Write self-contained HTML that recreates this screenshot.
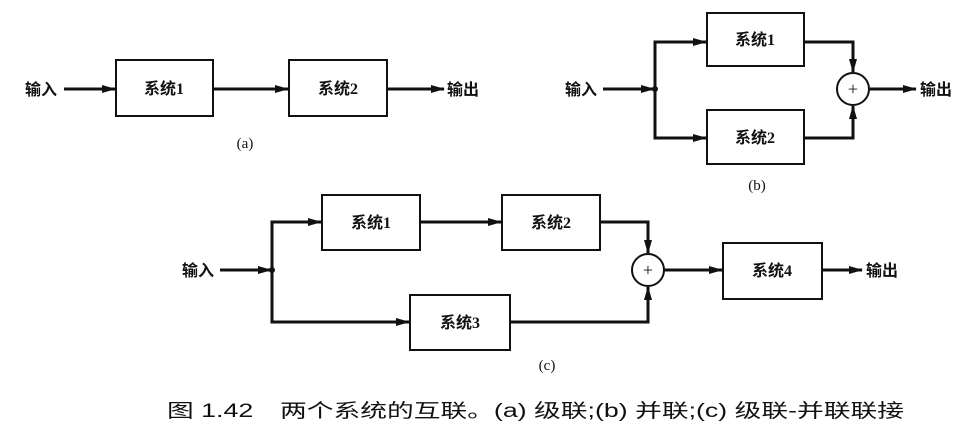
<!DOCTYPE html>
<html><head><meta charset="utf-8"><style>
html,body{margin:0;padding:0;background:#fff;}
svg text{font-family:"Liberation Serif","Noto Serif CJK SC","Noto Sans CJK SC",serif;fill:#111;}
.b{font-weight:bold;font-size:16px;font-family:"Liberation Serif","Noto Sans CJK SC",serif;}
</style></head><body>
<svg width="969" height="441" viewBox="0 0 969 441" xmlns="http://www.w3.org/2000/svg">
<defs><marker id="a" markerWidth="14" markerHeight="8" refX="13" refY="4" orient="auto" markerUnits="userSpaceOnUse"><path d="M0,0 L14,4 L0,8 Z" fill="#111"/></marker></defs>
<g stroke="#111" stroke-width="3" fill="none">
<rect x="116" y="60" width="97" height="56" stroke-width="2"/>
<rect x="289" y="60" width="98" height="56" stroke-width="2"/>
<line x1="64" y1="89" x2="115" y2="89" marker-end="url(#a)"/>
<line x1="213" y1="89" x2="288" y2="89" marker-end="url(#a)"/>
<line x1="387" y1="89" x2="444" y2="89" marker-end="url(#a)"/>
<rect x="707" y="13" width="97" height="53" stroke-width="2"/>
<rect x="707" y="110" width="97" height="54" stroke-width="2"/>
<circle cx="853" cy="89" r="16" stroke-width="2"/>
<line x1="603" y1="89" x2="654" y2="89" marker-end="url(#a)"/>
<polyline points="655,89 655,42 706,42" marker-end="url(#a)"/>
<polyline points="655,89 655,138 706,138" marker-end="url(#a)"/>
<polyline points="804,42 853,42 853,72" marker-end="url(#a)"/>
<polyline points="804,138 853,138 853,106" marker-end="url(#a)"/>
<line x1="869" y1="89" x2="916" y2="89" marker-end="url(#a)"/>
<rect x="322" y="195" width="98" height="55" stroke-width="2"/>
<rect x="502" y="195" width="98" height="55" stroke-width="2"/>
<rect x="410" y="295" width="100" height="55" stroke-width="2"/>
<rect x="723" y="243" width="99" height="56" stroke-width="2"/>
<circle cx="648" cy="270" r="16" stroke-width="2"/>
<line x1="220" y1="270" x2="271" y2="270" marker-end="url(#a)"/>
<polyline points="272,270 272,222 321,222" marker-end="url(#a)"/>
<polyline points="272,270 272,322 409,322" marker-end="url(#a)"/>
<line x1="420" y1="222" x2="501" y2="222" marker-end="url(#a)"/>
<polyline points="600,222 648,222 648,253" marker-end="url(#a)"/>
<polyline points="510,322 648,322 648,287" marker-end="url(#a)"/>
<line x1="664" y1="270" x2="722" y2="270" marker-end="url(#a)"/>
<line x1="822" y1="270" x2="862" y2="270" marker-end="url(#a)"/>
</g>
<circle cx="655" cy="89" r="3" fill="#111"/>
<circle cx="272" cy="270" r="3" fill="#111"/>
<g class="b">
<text x="25" y="95" class="b">输入</text>
<text x="447" y="95" class="b">输出</text>
<text x="164" y="94" class="b" text-anchor="middle">系统1</text>
<text x="338" y="94" class="b" text-anchor="middle">系统2</text>
<text x="565" y="95" class="b">输入</text>
<text x="920" y="95" class="b">输出</text>
<text x="755" y="45" class="b" text-anchor="middle">系统1</text>
<text x="755" y="143" class="b" text-anchor="middle">系统2</text>
<text x="182" y="276" class="b">输入</text>
<text x="866" y="276" class="b">输出</text>
<text x="371" y="228" class="b" text-anchor="middle">系统1</text>
<text x="551" y="228" class="b" text-anchor="middle">系统2</text>
<text x="460" y="328" class="b" text-anchor="middle">系统3</text>
<text x="772" y="276" class="b" text-anchor="middle">系统4</text>
</g>
<text x="853" y="95" font-size="18" text-anchor="middle">+</text>
<text x="648" y="276" font-size="18" text-anchor="middle">+</text>
<text x="245" y="148" font-size="15" text-anchor="middle">(a)</text>
<text x="757" y="190" font-size="15" text-anchor="middle">(b)</text>
<text x="547" y="370" font-size="15" text-anchor="middle">(c)</text>
<text x="167" y="417" font-size="19" style="font-family:'Liberation Sans','Noto Sans CJK SC',sans-serif" textLength="737" lengthAdjust="spacingAndGlyphs">图 1.42　两个系统的互联。(a) 级联;(b) 并联;(c) 级联-并联联接</text>
</svg>
</body></html>
